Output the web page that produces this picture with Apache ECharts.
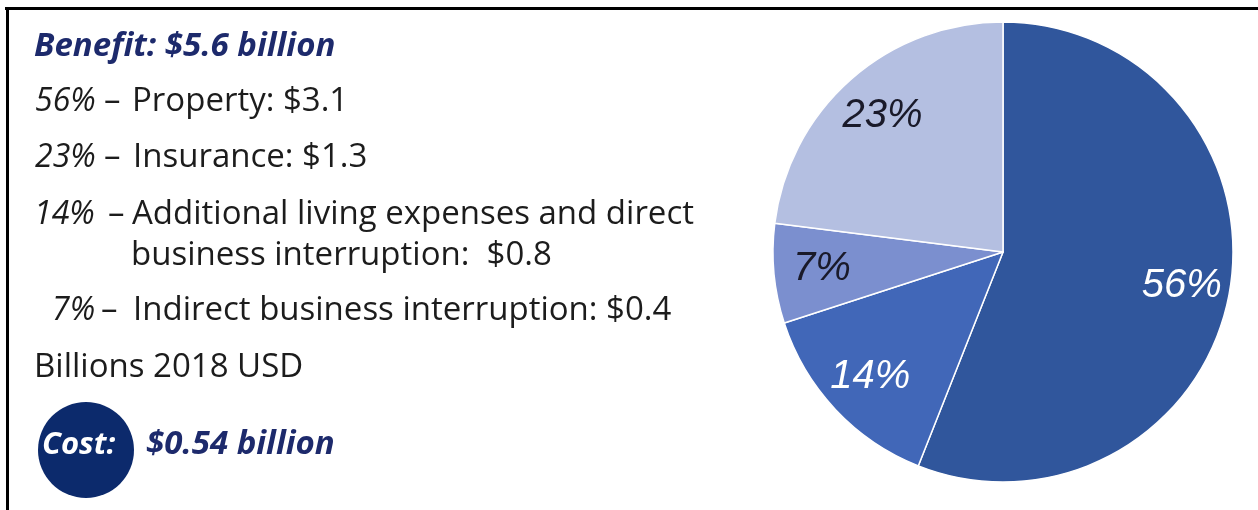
<!DOCTYPE html>
<html>
<head>
<meta charset="utf-8">
<script src="https://cdn.jsdelivr.net/npm/echarts@6/dist/echarts.min.js"></script>
<style>
html,body{margin:0;padding:0;background:#fff;}
#chart{width:1258px;height:510px;}
</style>
</head>
<body>
<div id="chart"></div>
<script>
// Pie data (share of benefit, %), clockwise from 12 o'clock
const sliceNames = ['Property', 'Additional living expenses and direct business interruption', 'Indirect business interruption', 'Insurance'];
const sliceValues = [56, 14, 7, 23];
const sliceColors = ['#30569c', '#4167b8', '#7b8fcf', '#b4bfe1'];
const sliceLabelColors = ['#ffffff', '#ffffff', '#1a1a2a', '#1a1a2a'];

// Left-hand text block
const headline = 'Benefit: $5.6 billion';
const listPct = ['56%', '23%', '14%', '', '7%'];
const listText = ['Property: $3.1', 'Insurance: $1.3', 'Additional living expenses and direct', 'business interruption:  $0.8', 'Indirect business interruption: $0.4'];
const unitsNote = 'Billions 2018 USD';
const costLabel = 'Cost:';
const costValue = '$0.54 billion';

const chart = echarts.init(document.getElementById('chart'), null, {renderer: 'canvas'});

const FONT = '"Open Sans", Lato, sans-serif';
const BODY = '#1c1c1c';
const NAVY = '#1d2a6c';

const lineY = [102, 158, 215, 256, 311];
const pctX = [35, 35, 34, 0, 52];
const dashX = [104, 104, 108, 0, 101];
const textX = [132, 133, 132, 131, 133];

const graphics = [
  {type: 'line', shape: {x1: 5, y1: 8.5, x2: 1258, y2: 8.5}, style: {stroke: '#000', lineWidth: 3}},
  {type: 'line', shape: {x1: 7.5, y1: 7, x2: 7.5, y2: 510}, style: {stroke: '#000', lineWidth: 3}},
  {type: 'text', x: 34, y: 47, style: {text: headline, font: 'italic bold 33px ' + FONT, fill: NAVY, verticalAlign: 'middle'}}
];
for (let i = 0; i < listText.length; i++) {
  if (listPct[i]) {
    graphics.push({type: 'text', x: pctX[i], y: lineY[i], style: {text: listPct[i], font: 'italic 32px ' + FONT, fill: BODY, verticalAlign: 'middle'}});
    graphics.push({type: 'text', x: dashX[i], y: lineY[i], style: {text: '–', font: '33px ' + FONT, fill: BODY, verticalAlign: 'middle'}});
  }
  graphics.push({type: 'text', x: textX[i], y: lineY[i], style: {text: listText[i], font: '33px ' + FONT, fill: BODY, verticalAlign: 'middle'}});
}
graphics.push({type: 'text', x: 34, y: 368, style: {text: unitsNote, font: '33px ' + FONT, fill: BODY, verticalAlign: 'middle'}});
graphics.push({type: 'circle', shape: {cx: 86, cy: 450, r: 48}, style: {fill: '#0c2a6c'}});
graphics.push({type: 'text', x: 42, y: 445, style: {text: costLabel, font: 'italic bold 31px ' + FONT, fill: '#ffffff', verticalAlign: 'middle'}});
graphics.push({type: 'text', x: 146, y: 445, style: {text: costValue, font: 'italic bold 33px ' + FONT, fill: NAVY, verticalAlign: 'middle'}});

const pieData = sliceNames.map((n, i) => ({
  name: n, value: sliceValues[i], itemStyle: {color: sliceColors[i]}
}));
const labelData = sliceNames.map((n, i) => ({
  name: n, value: sliceValues[i],
  label: {color: sliceLabelColors[i]}
}));

chart.setOption({
  animation: false,
  backgroundColor: '#ffffff',
  graphic: graphics,
  series: [
    {
      type: 'pie',
      center: [1003, 252],
      radius: [0, 230],
      startAngle: 90,
      clockwise: true,
      silent: true,
      label: {show: false},
      labelLine: {show: false},
      itemStyle: {borderColor: '#ffffff', borderWidth: 1.5},
      data: pieData
    },
    {
      type: 'pie',
      center: [1003, 252],
      radius: [136, 222],
      startAngle: 90,
      clockwise: true,
      silent: true,
      itemStyle: {color: 'rgba(0,0,0,0)', borderWidth: 0},
      label: {
        show: true, position: 'inside',
        formatter: p => p.value + '%',
        fontFamily: '"Liberation Sans", Arial, sans-serif',
        fontStyle: 'italic', fontSize: 40
      },
      labelLine: {show: false},
      data: labelData
    }
  ]
});
</script>
</body>
</html>
